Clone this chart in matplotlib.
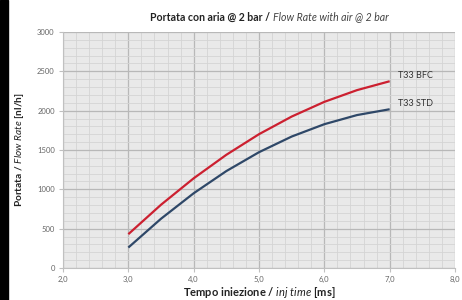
import matplotlib
matplotlib.use("Agg")
import matplotlib.pyplot as plt
from matplotlib.patches import Rectangle
from matplotlib.ticker import MultipleLocator, FuncFormatter

inj_time = [3.0, 3.5, 4.0, 4.5, 5.0, 5.5, 6.0, 6.5, 7.0]
bfc = [430, 804, 1140, 1439, 1701, 1925, 2112, 2261, 2374]
std = [260, 626, 950, 1232, 1472, 1671, 1828, 1944, 2018]
series_names = ["T33 BFC", "T33 STD"]
title_bold = "Portata con aria @ 2 bar /"
title_it = "Flow Rate with air @ 2 bar"

plt.rcParams['font.family'] = ['Lato', 'DejaVu Sans']
plt.rcParams['mathtext.fontset'] = 'custom'
plt.rcParams['mathtext.rm'] = 'Lato'
plt.rcParams['mathtext.bf'] = 'Lato:bold'
plt.rcParams['mathtext.it'] = 'Lato:italic'

fig = plt.figure(figsize=(4.62, 3.0), dpi=100)
fig.patch.set_facecolor('white')
fig.add_artist(Rectangle((0, 0), 8/462, 1, transform=fig.transFigure, color='black', zorder=0))

ax = fig.add_axes([63/462, 32/300, 392/462, 236/300])
ax.set_facecolor('#e9e9e9')
ax.set_xlim(2.0, 8.0)
ax.set_ylim(0, 3000)
ax.xaxis.set_major_locator(MultipleLocator(1.0))
ax.xaxis.set_minor_locator(MultipleLocator(0.2))
ax.yaxis.set_major_locator(MultipleLocator(500))
ax.yaxis.set_minor_locator(MultipleLocator(100))
ax.grid(which='minor', color='#d4d4d4', lw=0.6)
ax.grid(which='major', color='#b8b8b8', lw=0.9)
ax.set_axisbelow(True)
for s in ['top', 'right']:
    ax.spines[s].set_visible(False)
ax.spines['left'].set_color('#c0c0c0')
ax.spines['bottom'].set_color('#c0c0c0')
ax.tick_params(which='minor', length=0)
ax.tick_params(which='major', length=3, color='#c0c0c0', labelsize=5.5, labelcolor='#666666', pad=3)
ax.xaxis.set_major_formatter(FuncFormatter(lambda v, p: f"{v:.1f}".replace('.', ',')))
ax.yaxis.set_major_formatter(FuncFormatter(lambda v, p: f"{int(v)}"))

ax.plot(inj_time, bfc, color='#cc2030', lw=1.6, solid_capstyle='butt', solid_joinstyle='round')
ax.plot(inj_time, std, color='#2f4868', lw=1.6, solid_capstyle='butt', solid_joinstyle='round')
ax.text(7.12, bfc[-1] + 70, series_names[0], fontsize=6.5, color='#333333', va='center')
ax.text(7.12, std[-1] + 70, series_names[1], fontsize=6.5, color='#333333', va='center')

fig.text(270/462, 1 - 17/300, title_bold, fontsize=7.6, fontweight='bold', ha='right', va='center', color='#222222')
fig.text(273/462, 1 - 17/300, title_it, fontsize=7.6, style='italic', ha='left', va='center', color='#444444')

fig.text(259/462, 1 - 292/300, r"$\bf{Tempo\ iniezione\ /}\ \it{inj\ time}\ \bf{[ms]}$",
         fontsize=8, ha='center', va='center', color='#222222')
fig.text(20/462, 1 - 150/300, r"$\bf{Portata\ /}\ \it{Flow\ Rate}\ \bf{[nl/h]}$",
         fontsize=7.3, ha='center', va='center', rotation=90, color='#222222')

fig.savefig('out.png', dpi=100)
